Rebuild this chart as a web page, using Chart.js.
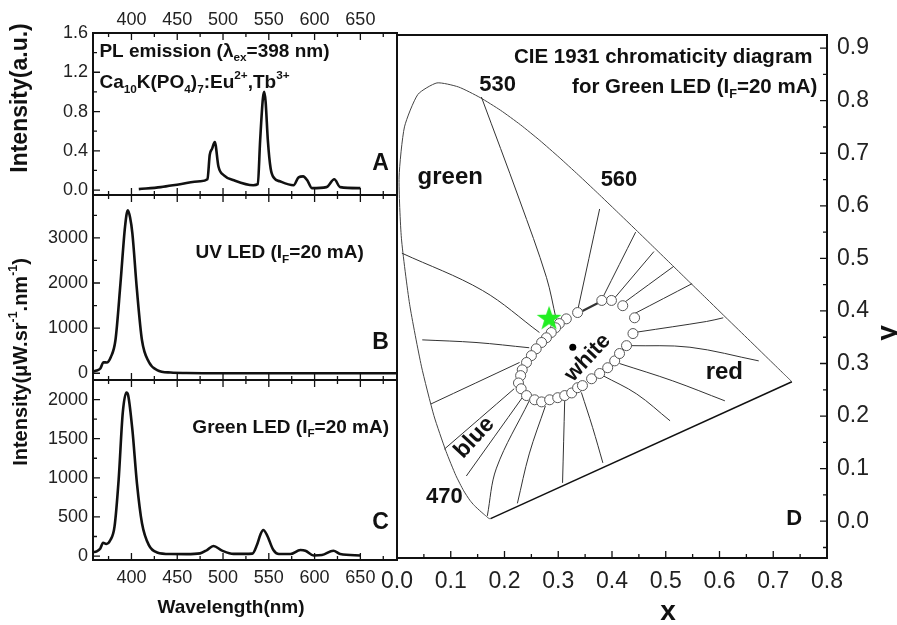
<!DOCTYPE html>
<html>
<head>
<meta charset="utf-8">
<script src="https://cdn.jsdelivr.net/npm/chart.js@4.4.1/dist/chart.umd.min.js"></script>
<style>
html, body { margin: 0; padding: 0; background: #fff; }
#wrap { position: relative; width: 897px; height: 625px; overflow: hidden; background: #fff; }
canvas { position: absolute; top: 0; }
#left { left: 0; }
#cie { left: 370px; }
</style>
</head>
<body>
<div id="wrap">
  <canvas id="left" width="415" height="625"></canvas>
  <canvas id="cie" width="527" height="625"></canvas>
</div>
<script>
// ---- spectra ----
const plWavelength = [408, 432, 453, 475, 483, 485.5, 488, 491, 495, 501, 512, 533, 538, 540.5, 543.5, 545, 546.5, 549, 552, 556, 562, 577, 582.5, 587.5, 592, 597, 613, 621.5, 628, 650];
const plIntensity  = [0.01, 0.03, 0.06, 0.09, 0.11, 0.36, 0.42, 0.49, 0.24, 0.15, 0.10, 0.05, 0.06, 0.50, 0.93, 1.00, 0.90, 0.50, 0.22, 0.12, 0.09, 0.05, 0.13, 0.14, 0.10, 0.02, 0.03, 0.11, 0.03, 0.02];

const uvWavelength = [358, 362, 366, 369.5, 373, 377.5, 382.5, 388, 393, 396, 398.5, 401, 406, 411.5, 419, 428, 443, 460, 500, 550, 600, 650, 690];
const uvIntensity  = [40, 60, 105, 245, 237, 360, 730, 1990, 3250, 3610, 3450, 3100, 1840, 730, 250, 70, 15, 5, 0, 0, 0, 0, 0];

const greenWavelength = [358, 362, 366, 369, 372.5, 377, 381.5, 386, 390.5, 394.5, 396.5, 401, 406, 411.5, 419, 428, 443, 460, 475, 482.5, 489.5, 499, 511.5, 532, 537, 541, 544, 548, 555, 561, 573.5, 584.5, 590, 599, 608, 620.5, 628, 650];
const greenIntensity  = [50, 60, 98, 170, 155, 205, 376, 975, 1830, 2090, 2050, 1615, 930, 420, 140, 47, 26, 25, 35, 77, 128, 70, 28, 32, 141, 280, 333, 269, 77, 26, 26, 77, 68, 8, 13, 68, 26, 8];

// ---- tick labels ----
const wavelengthTicks = [400, 450, 500, 550, 600, 650];
const wavelengthMinor = [375, 425, 475, 525, 575, 625, 675];
const plTicks = [0, 0.4, 0.8, 1.2, 1.6];
const plMinor = [0.2, 0.6, 1.0, 1.4];
const uvTicks = [0, 1000, 2000, 3000];
const uvMinor = [500, 1500, 2500, 3500];
const greenTicks = [0, 500, 1000, 1500, 2000];
const greenMinor = [250, 750, 1250, 1750];
const cieXTicks = [0, 0.1, 0.2, 0.3, 0.4, 0.5, 0.6, 0.7, 0.8];
const cieXMinor = [0.05, 0.15, 0.25, 0.35, 0.45, 0.55, 0.65, 0.75];
const cieYTicks = [0, 0.1, 0.2, 0.3, 0.4, 0.5, 0.6, 0.7, 0.8, 0.9];
const cieYMinor = [-0.05, 0.05, 0.15, 0.25, 0.35, 0.45, 0.55, 0.65, 0.75, 0.85];

// ---- CIE 1931 diagram ----
const locusX = [0.1741, 0.1733, 0.1714, 0.1689, 0.1644, 0.1566, 0.1440, 0.1355, 0.1241, 0.1096, 0.0913, 0.0687, 0.0454, 0.0235, 0.0082, 0.0039, 0.0139, 0.0389, 0.0743, 0.1142, 0.1547, 0.1929, 0.2296, 0.2658, 0.3016, 0.3373, 0.3731, 0.4087, 0.4441, 0.4788, 0.5125, 0.5448, 0.5752, 0.6029, 0.6270, 0.6658, 0.6915, 0.7079, 0.7190, 0.7260, 0.7300, 0.7334, 0.7347];
const locusY = [0.0050, 0.0048, 0.0051, 0.0069, 0.0109, 0.0177, 0.0297, 0.0399, 0.0578, 0.0868, 0.1327, 0.2007, 0.2950, 0.4127, 0.5384, 0.6548, 0.7502, 0.8120, 0.8338, 0.8262, 0.8059, 0.7816, 0.7543, 0.7243, 0.6923, 0.6589, 0.6245, 0.5896, 0.5547, 0.5202, 0.4866, 0.4544, 0.4242, 0.3965, 0.3725, 0.3340, 0.3083, 0.2920, 0.2809, 0.2740, 0.2700, 0.2666, 0.2653];

const isoLineX = [
  [0.157, 0.228, 0.278, 0.296], [0.377, 0.337], [0.444, 0.383], [0.478, 0.401], [0.515, 0.420], [0.549, 0.442],
  [0.607, 0.576, 0.448], [0.673, 0.545, 0.433], [0.610, 0.513, 0.414], [0.508, 0.446, 0.383], [0.383, 0.364, 0.343],
  [0.308, 0.312], [0.224, 0.246, 0.276], [0.168, 0.185, 0.246], [0.129, 0.233], [0.088, 0.218], [0.063, 0.228],
  [0.047, 0.147, 0.246], [0.009, 0.159, 0.265], [0.345, 0.374]
];
const isoLineY = [
  [0.807, 0.611, 0.464, 0.385], [0.594, 0.405], [0.550, 0.426], [0.513, 0.420], [0.485, 0.414], [0.452, 0.395],
  [0.387, 0.380, 0.360], [0.305, 0.331, 0.334], [0.229, 0.267, 0.300], [0.191, 0.242, 0.277], [0.111, 0.178, 0.245],
  [0.073, 0.229], [0.034, 0.128, 0.219], [0.010, 0.101, 0.229], [0.086, 0.235], [0.137, 0.252], [0.223, 0.302],
  [0.345, 0.340, 0.330], [0.510, 0.439, 0.359], [0.400, 0.415]
];

const ellipseX = [0.336, 0.315, 0.302, 0.295, 0.287, 0.278, 0.269, 0.259, 0.250, 0.241, 0.233, 0.230, 0.226, 0.231, 0.241, 0.256, 0.269, 0.284, 0.299, 0.312, 0.325, 0.336, 0.345, 0.362, 0.377, 0.392, 0.405, 0.414, 0.427, 0.439, 0.442, 0.420, 0.399, 0.381];
const ellipseY = [0.397, 0.385, 0.376, 0.368, 0.359, 0.349, 0.340, 0.328, 0.315, 0.302, 0.288, 0.277, 0.263, 0.252, 0.239, 0.231, 0.227, 0.231, 0.235, 0.239, 0.244, 0.254, 0.258, 0.271, 0.281, 0.292, 0.305, 0.319, 0.334, 0.357, 0.387, 0.410, 0.420, 0.420];

const greenLedX = [0.283];
const greenLedY = [0.385];
const whitePointX = [0.327];
const whitePointY = [0.331];

// ---- helpers ----
const FONT = '"Liberation Sans", Arial, Helvetica, sans-serif';
const pts = (xs, ys) => xs.map((x, i) => ({x: x, y: ys[i]}));
const fixTicks = vals => scale => { scale.ticks = vals.map(v => ({value: v})); };
const fixSize = (w, h) => scale => {
  if (w != null) scale.width = w;
  if (h != null) scale.height = h;
  scale.paddingLeft = 0; scale.paddingRight = 0; scale.paddingTop = 0; scale.paddingBottom = 0;
};

function drawRich(ctx, parts, size, bold, align) {
  const w = bold ? 'bold ' : '';
  let total = 0;
  const runs = parts.map(p => {
    const s = p[1] === 'n' ? size : size * 0.62;
    ctx.font = w + s + 'px ' + FONT;
    const width = ctx.measureText(p[0]).width;
    total += width;
    return {t: p[0], s: s, width: width, dy: p[1] === 'sub' ? size * 0.34 : p[1] === 'sup' ? -size * 0.38 : 0};
  });
  let x = align === 'left' ? 0 : align === 'right' ? -total : -total / 2;
  ctx.textBaseline = 'middle';
  ctx.textAlign = 'left';
  runs.forEach(r => { ctx.font = w + r.s + 'px ' + FONT; ctx.fillText(r.t, x, r.dy); x += r.width; });
}

// frames, inward ticks and labels
function decor(cfg) {
  return {
    id: 'decor',
    afterDraw(chart) {
      const ctx = chart.ctx, area = chart.chartArea;
      ctx.save();
      ctx.strokeStyle = '#111';
      cfg.panels.forEach(p => {
        const xs = chart.scales[p.x], ys = chart.scales[p.y];
        const top = ys.top, bottom = ys.bottom;
        ctx.lineWidth = 2;
        ctx.strokeRect(area.left, top, area.right - area.left, bottom - top);
        ctx.lineWidth = 1.3;
        ctx.beginPath();
        [[p.xMajor, 7], [p.xMinor, 4]].forEach(([vals, len]) => vals.forEach(v => {
          const px = xs.getPixelForValue(v);
          if (px < area.left + 1 || px > area.right - 1) return;
          p.xSides.forEach(side => {
            const y0 = side === 'top' ? top : bottom;
            const dir = side === 'top' ? 1 : -1;
            ctx.moveTo(px, y0); ctx.lineTo(px, y0 + dir * len);
          });
        }));
        [[p.yMajor, 7], [p.yMinor, 4]].forEach(([vals, len]) => vals.forEach(v => {
          const py = ys.getPixelForValue(v);
          if (py < top + 1 || py > bottom - 1) return;
          p.ySides.forEach(side => {
            const x0 = side === 'left' ? area.left : area.right;
            const dir = side === 'left' ? 1 : -1;
            ctx.moveTo(x0, py); ctx.lineTo(x0 + dir * len, py);
          });
        }));
        ctx.stroke();
      });
      ctx.fillStyle = '#111';
      cfg.texts.forEach(t => {
        const x = t.xs ? chart.scales[t.xs].getPixelForValue(t.x) : t.x;
        const y = t.ys ? chart.scales[t.ys].getPixelForValue(t.y) : t.y;
        ctx.save();
        ctx.translate(x, y);
        if (t.rot) ctx.rotate(t.rot * Math.PI / 180);
        drawRich(ctx, t.parts, t.size, t.bold !== false, t.align || 'center');
        ctx.restore();
      });
      ctx.restore();
    }
  };
}

const tickFont = size => ({family: FONT, size: size});
const tickOpts = (size, pad, cb) => ({font: tickFont(size), color: '#222', padding: pad, autoSkip: false, maxRotation: 0, callback: cb});

// ---- left: panels A, B, C stacked on one wavelength axis ----
const spectrumLine = {borderColor: '#111', borderWidth: 2.6, pointRadius: 0, fill: false, cubicInterpolationMode: 'monotone'};
new Chart(document.getElementById('left'), {
  type: 'line',
  data: {
    datasets: [
      Object.assign({data: pts(plWavelength, plIntensity), xAxisID: 'x', yAxisID: 'yA'}, spectrumLine),
      Object.assign({data: pts(uvWavelength, uvIntensity), xAxisID: 'x', yAxisID: 'yB'}, spectrumLine),
      Object.assign({data: pts(greenWavelength, greenIntensity), xAxisID: 'x', yAxisID: 'yC'}, spectrumLine)
    ]
  },
  options: {
    responsive: false, animation: false, events: [],
    layout: {autoPadding: false, padding: {left: 0, right: 18, top: 0, bottom: 0}},
    plugins: {legend: {display: false}, tooltip: {enabled: false}},
    scales: {
      x: {
        type: 'linear', position: 'bottom', min: 358, max: 690,
        afterBuildTicks: fixTicks(wavelengthTicks), afterFit: fixSize(null, 65),
        grid: {display: false, drawTicks: false}, border: {display: false},
        ticks: tickOpts(18, 7, v => String(v))
      },
      xTop: {
        type: 'linear', position: 'top', min: 358, max: 690,
        afterBuildTicks: fixTicks(wavelengthTicks), afterFit: fixSize(null, 33),
        grid: {display: false, drawTicks: false}, border: {display: false},
        ticks: tickOpts(18, 2, v => String(v))
      },
      // stacked left axes are placed top-down in reverse order of definition
      yC: {
        type: 'linear', position: 'left', stack: 'left', stackWeight: 180, min: -50, max: 2250,
        afterBuildTicks: fixTicks(greenTicks), afterFit: fixSize(93, null),
        grid: {display: false, drawTicks: false}, border: {display: false},
        ticks: tickOpts(18, 5, v => String(v))
      },
      yB: {
        type: 'linear', position: 'left', stack: 'left', stackWeight: 185, min: -150, max: 3950,
        afterBuildTicks: fixTicks(uvTicks), afterFit: fixSize(93, null),
        grid: {display: false, drawTicks: false}, border: {display: false},
        ticks: tickOpts(18, 5, v => String(v))
      },
      yA: {
        type: 'linear', position: 'left', stack: 'left', stackWeight: 162, min: -0.05, max: 1.6,
        afterBuildTicks: fixTicks(plTicks), afterFit: fixSize(93, null),
        grid: {display: false, drawTicks: false}, border: {display: false},
        ticks: tickOpts(18, 5, v => v.toFixed(1))
      }
    }
  },
  plugins: [decor({
    panels: [
      {x: 'x', y: 'yA', xMajor: wavelengthTicks, xMinor: wavelengthMinor, yMajor: plTicks, yMinor: plMinor, xSides: ['top', 'bottom'], ySides: ['left']},
      {x: 'x', y: 'yB', xMajor: wavelengthTicks, xMinor: wavelengthMinor, yMajor: uvTicks, yMinor: uvMinor, xSides: ['top', 'bottom'], ySides: ['left']},
      {x: 'x', y: 'yC', xMajor: wavelengthTicks, xMinor: wavelengthMinor, yMajor: greenTicks, yMinor: greenMinor, xSides: ['top', 'bottom'], ySides: ['left']}
    ],
    texts: [
      {xs: 'x', ys: 'yA', x: 365, y: 1.41, size: 19, align: 'left', parts: [['PL emission (λ', 'n'], ['ex', 'sub'], ['=398 nm)', 'n']]},
      {xs: 'x', ys: 'yA', x: 365, y: 1.09, size: 19, align: 'left', parts: [['Ca', 'n'], ['10', 'sub'], ['K(PO', 'n'], ['4', 'sub'], [')', 'n'], ['7', 'sub'], [':Eu', 'n'], ['2+', 'sup'], [',Tb', 'n'], ['3+', 'sup']]},
      {xs: 'x', ys: 'yA', x: 672, y: 0.27, size: 23, parts: [['A', 'n']]},
      {xs: 'x', ys: 'yB', x: 470, y: 2667, size: 19, align: 'left', parts: [['UV LED (I', 'n'], ['F', 'sub'], ['=20 mA)', 'n']]},
      {xs: 'x', ys: 'yB', x: 672, y: 667, size: 23, parts: [['B', 'n']]},
      {xs: 'x', ys: 'yC', x: 466.5, y: 1641, size: 19, align: 'left', parts: [['Green LED (I', 'n'], ['F', 'sub'], ['=20 mA)', 'n']]},
      {xs: 'x', ys: 'yC', x: 672, y: 423, size: 23, parts: [['C', 'n']]},
      {x: 231, y: 608, size: 19, parts: [['Wavelength(nm)', 'n']]},
      {x: 21, y: 98, size: 23, rot: -90, parts: [['Intensity(a.u.)', 'n']]},
      {x: 21, y: 362, size: 20, rot: -90, parts: [['Intensity(μW.sr', 'n'], ['-1', 'sup'], ['.nm', 'n'], ['-1', 'sup'], [')', 'n']]}
    ]
  })]
});

// ---- right: CIE 1931 chromaticity diagram ----
const starImg = document.createElement('canvas');
starImg.width = 28; starImg.height = 28;
(function () {
  const c = starImg.getContext('2d');
  c.fillStyle = '#22ee22';
  c.beginPath();
  for (let i = 0; i < 10; i++) {
    const r = i % 2 ? 5.2 : 13;
    const a = -Math.PI / 2 + i * Math.PI / 5;
    c.lineTo(14 + r * Math.cos(a), 14 + r * Math.sin(a));
  }
  c.closePath();
  c.fill();
})();

const cieDatasets = [
  {data: pts(greenLedX, greenLedY), pointStyle: starImg, pointRadius: 12},
  {data: pts(whitePointX, whitePointY), pointRadius: 3.5, pointBackgroundColor: '#000', pointBorderWidth: 0},
  {data: pts(ellipseX, ellipseY), pointRadius: 5, pointBackgroundColor: '#fff', pointBorderColor: '#555', pointBorderWidth: 1}
];
isoLineX.forEach((xs, i) => {
  cieDatasets.push({data: pts(xs, isoLineY[i]), showLine: true, pointRadius: 0, borderColor: '#333',
    borderWidth: i === isoLineX.length - 1 ? 2.2 : 1, tension: 0.35});
});
cieDatasets.push({data: pts(locusX, locusY), showLine: true, pointRadius: 0, borderColor: '#444', borderWidth: 1, tension: 0.2});
cieDatasets.push({data: pts([locusX[0], locusX[locusX.length - 1]], [locusY[0], locusY[locusY.length - 1]]), showLine: true, pointRadius: 0, borderColor: '#111', borderWidth: 1.5});

new Chart(document.getElementById('cie'), {
  type: 'scatter',
  data: {datasets: cieDatasets},
  options: {
    responsive: false, animation: false, events: [],
    layout: {autoPadding: false, padding: {left: 27, right: 0, top: 35, bottom: 0}},
    plugins: {legend: {display: false}, tooltip: {enabled: false}},
    scales: {
      x: {
        type: 'linear', position: 'bottom', min: 0, max: 0.8,
        afterBuildTicks: fixTicks(cieXTicks), afterFit: fixSize(null, 67),
        grid: {display: false, drawTicks: false}, border: {display: false},
        ticks: tickOpts(23, 10, v => v.toFixed(1))
      },
      y: {
        type: 'linear', position: 'right', min: -0.07, max: 0.925,
        afterBuildTicks: fixTicks(cieYTicks), afterFit: fixSize(70, null),
        grid: {display: false, drawTicks: false}, border: {display: false},
        ticks: tickOpts(23, 10, v => v.toFixed(1))
      }
    }
  },
  plugins: [decor({
    panels: [
      {x: 'x', y: 'y', xMajor: cieXTicks, xMinor: cieXMinor, yMajor: cieYTicks, yMinor: cieYMinor, xSides: ['bottom'], ySides: ['right']}
    ],
    texts: [
      {xs: 'x', ys: 'y', x: 0.773, y: 0.882, size: 20.5, align: 'right', parts: [['CIE 1931 chromaticity diagram', 'n']]},
      {xs: 'x', ys: 'y', x: 0.782, y: 0.826, size: 20.5, align: 'right', parts: [['for Green LED (I', 'n'], ['F', 'sub'], ['=20 mA)', 'n']]},
      {xs: 'x', ys: 'y', x: 0.187, y: 0.830, size: 22, parts: [['530', 'n']]},
      {xs: 'x', ys: 'y', x: 0.413, y: 0.649, size: 22, parts: [['560', 'n']]},
      {xs: 'x', ys: 'y', x: 0.088, y: 0.046, size: 22, parts: [['470', 'n']]},
      {xs: 'x', ys: 'y', x: 0.099, y: 0.655, size: 24, parts: [['green', 'n']]},
      {xs: 'x', ys: 'y', x: 0.609, y: 0.283, size: 24, parts: [['red', 'n']]},
      {xs: 'x', ys: 'y', x: 0.144, y: 0.159, size: 23, rot: -47, parts: [['blue', 'n']]},
      {xs: 'x', ys: 'y', x: 0.355, y: 0.311, size: 22, rot: -47, parts: [['white', 'n']]},
      {xs: 'x', ys: 'y', x: 0.739, y: 0.004, size: 22, parts: [['D', 'n']]},
      {x: 298, y: 612, size: 28, parts: [['x', 'n']]},
      {x: 518, y: 333, size: 28, rot: -90, parts: [['y', 'n']]}
    ]
  })]
});
</script>
</body>
</html>
